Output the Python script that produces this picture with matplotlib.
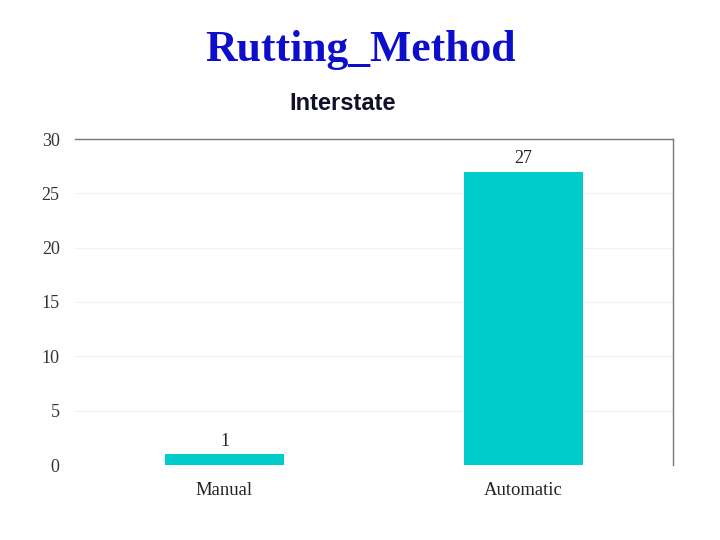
import matplotlib
matplotlib.use("Agg")
import matplotlib.pyplot as plt

# chart data
categories = ["Manual", "Automatic"]
counts = [1, 27]
yticks = [0, 5, 10, 15, 20, 25, 30]

fig = plt.figure(figsize=(7.2, 5.4), dpi=100)
ax = fig.add_axes([75 / 720, 1 - 465 / 540, 598 / 720, 326 / 540])

bars = ax.bar(range(len(categories)), counts, width=0.4, color="#00cccc", zorder=2)
for rect, v in zip(bars, counts):
    ax.text(rect.get_x() + rect.get_width() / 2, v + 0.4, str(v),
            ha="center", va="bottom", family="Liberation Serif",
            fontsize=13, color="#222222")

ax.set_xlim(-0.5, 1.5)
ax.set_ylim(0, 30)
ax.set_xticks(range(len(categories)))
ax.set_xticklabels(categories, family="Liberation Serif", fontsize=13.4, color="#222222")
ax.set_yticks(yticks)
ax.set_yticklabels([str(t) for t in yticks], family="Liberation Serif", fontsize=13, color="#333333")
ax.tick_params(length=0)
ax.tick_params(axis="y", pad=11)
ax.tick_params(axis="x", pad=12)
ax.grid(axis="y", color="#f2f2f2", linewidth=0.8, zorder=0)

for side in ["left", "bottom"]:
    ax.spines[side].set_visible(False)
for side in ["top", "right"]:
    ax.spines[side].set_color("#777777")
    ax.spines[side].set_linewidth(1.0)

fig.text(0.5, 1 - 50 / 540, "Rutting_Method", ha="center", va="center",
         family="Liberation Serif", fontweight="bold", fontsize=31.5, color="#0d0dcc")
fig.text(343 / 720, 1 - 103 / 540, "Interstate", ha="center", va="center",
         family="Liberation Sans", fontweight="bold", fontsize=17, color="#101028")

fig.savefig("out.png", dpi=100)
